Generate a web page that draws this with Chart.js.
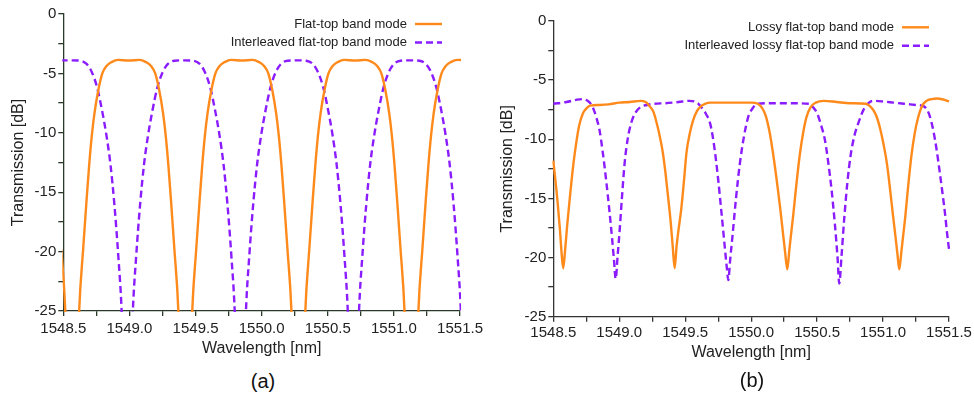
<!DOCTYPE html>
<html>
<head>
<meta charset="utf-8">
<script src="https://cdn.jsdelivr.net/npm/chart.js@4.4.0/dist/chart.umd.min.js"></script>
<style>
    body { margin: 0; background: #fff; width: 974px; height: 393px; position: relative; overflow: hidden;
           font-family: 'Liberation Sans', Arial, sans-serif; }
    #wrapA { position: absolute; left: 0; top: 0; width: 487px; height: 365px; }
    #wrapB { position: absolute; left: 490px; top: 0; width: 484px; height: 370px; }
    .rotulo { position: absolute; font-size: 20px; color: #111; transform: translate(-50%, -50%); }
</style>
</head>
<body>
<div id="wrapA"><canvas id="graficoA"></canvas></div>
<div id="wrapB"><canvas id="graficoB"></canvas></div>
<div class="rotulo" style="left:263px; top:381px;">(a)</div>
<div class="rotulo" style="left:752px; top:380px;">(b)</div>

<script>
// ---- (a) flat-top band mode ----
const legendasA = ['Flat-top band mode', 'Interleaved flat-top band mode'];

const wlLaranjaA = [
    1548.44, 1548.46, 1548.485, 1548.515, 1548.5675,
    1548.62, 1548.65, 1548.675, 1548.695, 1548.715, 1548.735, 1548.765, 1548.795, 1548.825, 1548.865, 1548.915, 1548.995,
    1549.075, 1549.125, 1549.165, 1549.195, 1549.225, 1549.255, 1549.275, 1549.295, 1549.315, 1549.34, 1549.37, 1549.4225,
    1549.475, 1549.505, 1549.53, 1549.55, 1549.57, 1549.59, 1549.62, 1549.65, 1549.68, 1549.72, 1549.77, 1549.85,
    1549.93, 1549.98, 1550.02, 1550.05, 1550.08, 1550.11, 1550.13, 1550.15, 1550.17, 1550.195, 1550.225, 1550.2775,
    1550.33, 1550.36, 1550.385, 1550.405, 1550.425, 1550.445, 1550.475, 1550.505, 1550.535, 1550.575, 1550.625, 1550.705,
    1550.785, 1550.835, 1550.875, 1550.905, 1550.935, 1550.965, 1550.985, 1551.005, 1551.025, 1551.05, 1551.08, 1551.1325,
    1551.185, 1551.215, 1551.24, 1551.26, 1551.28, 1551.30, 1551.33, 1551.36, 1551.39, 1551.43, 1551.48, 1551.56
];
const trLaranjaA = [
    -12.8, -15.8, -19.8, -25, -45,
    -25, -19.8, -15.8, -12.8, -10.3, -8.4, -6.4, -5.0, -4.4, -4.05, -3.86, -3.92,
    -3.86, -4.05, -4.4, -5.0, -6.4, -8.4, -10.3, -12.8, -15.8, -19.8, -25, -45,
    -25, -19.8, -15.8, -12.8, -10.3, -8.4, -6.4, -5.0, -4.4, -4.05, -3.86, -3.92,
    -3.86, -4.05, -4.4, -5.0, -6.4, -8.4, -10.3, -12.8, -15.8, -19.8, -25, -45,
    -25, -19.8, -15.8, -12.8, -10.3, -8.4, -6.4, -5.0, -4.4, -4.05, -3.86, -3.92,
    -3.86, -4.05, -4.4, -5.0, -6.4, -8.4, -10.3, -12.8, -15.8, -19.8, -25, -45,
    -25, -19.8, -15.8, -12.8, -10.3, -8.4, -6.4, -5.0, -4.4, -4.05, -3.86, -3.92
];

const wlRoxoA = [
    1548.48, 1548.556, 1548.626, 1548.676, 1548.716, 1548.756, 1548.796, 1548.826, 1548.856, 1548.886, 1548.916, 1548.941, 1548.9835,
    1549.026, 1549.051, 1549.081, 1549.111, 1549.141, 1549.171, 1549.211, 1549.251, 1549.291, 1549.341, 1549.411,
    1549.481, 1549.531, 1549.571, 1549.611, 1549.651, 1549.681, 1549.711, 1549.741, 1549.771, 1549.796, 1549.8385,
    1549.881, 1549.906, 1549.936, 1549.966, 1549.996, 1550.026, 1550.066, 1550.106, 1550.146, 1550.196, 1550.266,
    1550.336, 1550.386, 1550.426, 1550.466, 1550.506, 1550.536, 1550.566, 1550.596, 1550.626, 1550.651, 1550.6935,
    1550.736, 1550.761, 1550.791, 1550.821, 1550.851, 1550.881, 1550.921, 1550.961, 1551.001, 1551.051, 1551.121,
    1551.191, 1551.241, 1551.281, 1551.321, 1551.361, 1551.391, 1551.421, 1551.451, 1551.481, 1551.506, 1551.5485
];
const trRoxoA = [
    -3.9, -3.9, -3.93, -4.2, -4.9, -6.2, -8.3, -10.2, -12.6, -16.0, -20.4, -25, -40,
    -25, -20.4, -16.0, -12.6, -10.2, -8.3, -6.2, -4.9, -4.2, -3.93, -3.9,
    -3.93, -4.2, -4.9, -6.2, -8.3, -10.2, -12.6, -16.0, -20.4, -25, -40,
    -25, -20.4, -16.0, -12.6, -10.2, -8.3, -6.2, -4.9, -4.2, -3.93, -3.9,
    -3.93, -4.2, -4.9, -6.2, -8.3, -10.2, -12.6, -16.0, -20.4, -25, -40,
    -25, -20.4, -16.0, -12.6, -10.2, -8.3, -6.2, -4.9, -4.2, -3.93, -3.9,
    -3.93, -4.2, -4.9, -6.2, -8.3, -10.2, -12.6, -16.0, -20.4, -25, -40
];

// ---- (b) lossy flat-top band mode ----
const legendasB = ['Lossy flat-top band mode', 'Interleaved lossy flat-top band mode'];

const wlLaranjaB = [
    1548.5, 1548.53, 1548.55, 1548.562, 1548.575, 1548.59, 1548.605, 1548.625, 1548.645, 1548.665, 1548.695, 1548.725, 1548.755, 1548.78,
    1548.85, 1548.92, 1549.0, 1549.08, 1549.16, 1549.2,
    1549.23, 1549.26, 1549.29, 1549.31, 1549.33, 1549.35, 1549.37, 1549.39, 1549.405, 1549.42, 1549.435, 1549.45, 1549.47, 1549.49, 1549.51, 1549.535, 1549.56, 1549.59, 1549.62, 1549.65, 1549.69,
    1549.85, 1550.0, 1550.05,
    1550.08, 1550.11, 1550.14, 1550.17, 1550.2, 1550.22, 1550.24, 1550.258, 1550.274, 1550.29, 1550.305, 1550.32, 1550.345, 1550.37, 1550.395, 1550.42, 1550.45, 1550.49,
    1550.55, 1550.65, 1550.75, 1550.87,
    1550.9, 1550.93, 1550.955, 1550.98, 1551.005, 1551.03, 1551.055, 1551.075, 1551.095, 1551.11, 1551.123, 1551.138, 1551.152, 1551.168, 1551.19, 1551.215, 1551.24, 1551.265, 1551.295,
    1551.33, 1551.37, 1551.41, 1551.46, 1551.5
];
const trLaranjaB = [
    -11.8, -15.0, -17.6, -19.5, -20.9, -19.3, -17.3, -15.0, -12.8, -11.0, -8.9, -7.8, -7.35, -7.15,
    -7.1, -7.05, -6.9, -6.85, -6.75, -6.85,
    -7.2, -7.7, -8.9, -9.9, -11.1, -12.8, -14.85, -17.0, -19.0, -20.9, -19.0, -17.6, -15.9, -13.6, -11.1, -9.5, -8.4, -7.6, -7.2, -7.0, -6.9,
    -6.9, -6.9, -7.0,
    -7.3, -8.0, -9.4, -11.5, -14.0, -15.8, -17.8, -19.6, -21.0, -19.3, -17.8, -16.3, -13.6, -11.2, -9.4, -8.1, -7.3, -6.9,
    -6.75, -6.85, -6.95, -7.0,
    -7.2, -7.6, -8.2, -9.2, -10.5, -12.1, -14.4, -16.4, -18.3, -19.8, -21.0, -19.6, -18.2, -16.6, -14.0, -11.4, -9.5, -8.2, -7.2,
    -6.75, -6.6, -6.55, -6.65, -6.8
];

const wlRoxoB = [
    1548.5, 1548.6, 1548.68, 1548.725, 1548.76, 1548.79,
    1548.81, 1548.83, 1548.85, 1548.875, 1548.9, 1548.925, 1548.945, 1548.96, 1548.973, 1548.988, 1549.003, 1549.02, 1549.04, 1549.065, 1549.09, 1549.12, 1549.165,
    1549.21, 1549.26, 1549.35, 1549.45, 1549.53, 1549.57, 1549.6,
    1549.63, 1549.66, 1549.69, 1549.72, 1549.75, 1549.775, 1549.8, 1549.815, 1549.827, 1549.84, 1549.86, 1549.885, 1549.915, 1549.945, 1549.978, 1550.01, 1550.045,
    1550.15, 1550.3, 1550.44,
    1550.47, 1550.5, 1550.53, 1550.56, 1550.585, 1550.61, 1550.635, 1550.655, 1550.668, 1550.685, 1550.705, 1550.73, 1550.755, 1550.785, 1550.812, 1550.84, 1550.865,
    1550.9, 1550.93, 1551.0, 1551.08, 1551.16, 1551.25, 1551.29,
    1551.32, 1551.35, 1551.38, 1551.405, 1551.43, 1551.45, 1551.47, 1551.485, 1551.5
];
const trRoxoB = [
    -7.0, -6.85, -6.65, -6.6, -6.75, -7.1,
    -7.6, -8.3, -9.2, -11.1, -13.4, -16.0, -18.3, -20.2, -21.8, -19.8, -17.7, -15.0, -12.1, -9.9, -8.65, -7.8, -7.25,
    -7.1, -7.0, -6.95, -6.85, -6.75, -6.8, -7.0,
    -7.4, -7.9, -8.7, -10.6, -13.4, -16.2, -19.1, -20.8, -21.9, -20.3, -18.0, -15.0, -12.0, -9.8, -8.1, -7.4, -7.0,
    -6.95, -6.95, -7.0,
    -7.3, -7.8, -8.8, -10.1, -12.0, -14.3, -17.2, -20.0, -22.2, -19.9, -16.8, -13.6, -11.3, -9.6, -8.65, -7.8, -7.25,
    -6.85, -6.75, -6.8, -6.9, -7.0, -7.1, -7.15,
    -7.3, -7.9, -9.2, -10.8, -12.8, -14.5, -16.3, -17.9, -19.3
];

const ticksY = [0, -5, -10, -15, -20, -25];
const ticksX = [1548.5, 1549.0, 1549.5, 1550.0, 1550.5, 1551.0, 1551.5];

const corLaranja = '#FF8A1C';
const corRoxo = '#8A1CFF';

Chart.defaults.font.family = "'Liberation Sans', Arial, sans-serif";

function pontos(wl, tr) {
    return wl.map((x, i) => ({ x: x, y: tr[i] }));
}

function ehRotulo(v, lista) {
    return lista.some(t => Math.abs(t - v) < 1e-6);
}

// legenda com texto a esquerda e amostra da linha a direita
const legendaPlugin = {
    id: 'legendaCustom',
    afterDraw(chart, args, opts) {
        const ctx = chart.ctx;
        ctx.save();
        ctx.font = "13px 'Liberation Sans', Arial, sans-serif";
        ctx.textAlign = 'right';
        ctx.textBaseline = 'middle';
        chart.data.datasets.forEach((ds, i) => {
            const y = opts.y + i * opts.gap;
            ctx.fillStyle = '#222';
            ctx.fillText(ds.label, opts.x, y);
            ctx.beginPath();
            ctx.strokeStyle = ds.borderColor;
            ctx.lineWidth = ds.borderWidth;
            ctx.setLineDash(ds.borderDash || []);
            ctx.moveTo(opts.x + 8, y);
            ctx.lineTo(opts.x + 35, y);
            ctx.stroke();
        });
        ctx.restore();
    }
};

function montarGrafico(id, legendas, laranja, roxo, cfg) {
    const ctx = document.getElementById(id).getContext('2d');
    return new Chart(ctx, {
        type: 'line',
        data: {
            datasets: [{
                label: legendas[0],
                data: laranja,
                borderColor: corLaranja,
                borderWidth: 2.4,
                cubicInterpolationMode: 'monotone',
                pointRadius: 0,
                clip: 1
            }, {
                label: legendas[1],
                data: roxo,
                borderColor: corRoxo,
                borderWidth: 2.4,
                borderDash: [7, 4],
                cubicInterpolationMode: 'monotone',
                pointRadius: 0,
                clip: 1
            }]
        },
        options: {
            responsive: true,
            maintainAspectRatio: false,
            animation: false,
            layout: { padding: { left: 0, right: cfg.padDir, top: cfg.padTopo, bottom: 0 } },
            plugins: {
                legend: { display: false },
                tooltip: { enabled: false },
                legendaCustom: cfg.legenda
            },
            scales: {
                x: {
                    type: 'linear',
                    min: 1548.5,
                    max: 1551.5,
                    afterFit: s => { s.height = cfg.alturaX; },
                    border: { color: cfg.corEixo, width: 1.3 },
                    grid: { drawOnChartArea: false, drawTicks: true, tickLength: 5, color: cfg.corEixo, lineWidth: 1.3 },
                    ticks: {
                        stepSize: 0.25,
                        autoSkip: false,
                        maxRotation: 0,
                        padding: cfg.padTickX,
                        color: '#222',
                        font: { size: 15 },
                        callback: v => ehRotulo(v, ticksX) ? v.toFixed(1) : ''
                    },
                    title: {
                        display: true,
                        text: 'Wavelength [nm]',
                        color: '#222',
                        font: { size: 16 },
                        padding: { top: 0, bottom: cfg.padTituloX }
                    }
                },
                y: {
                    min: -25,
                    max: 0,
                    afterFit: s => { s.width = 63.3; },
                    border: { color: cfg.corEixo, width: 1.3 },
                    grid: { drawOnChartArea: false, drawTicks: true, tickLength: 5, color: cfg.corEixo, lineWidth: 1.3 },
                    ticks: {
                        stepSize: 2.5,
                        autoSkip: false,
                        padding: 2,
                        color: '#222',
                        font: { size: 15 },
                        callback: v => ehRotulo(v, ticksY) ? String(v) : ''
                    },
                    title: {
                        display: true,
                        text: 'Transmission [dB]',
                        color: '#222',
                        font: { size: 16 },
                        padding: { top: cfg.padTituloY, bottom: 0 }
                    }
                }
            }
        },
        plugins: [legendaPlugin]
    });
}

montarGrafico('graficoA', legendasA, pontos(wlLaranjaA, trLaranjaA), pontos(wlRoxoA, trRoxoA), {
    padDir: 24.7, padTopo: 14, alturaX: 54, padTickX: 4, padTituloX: 6.4, padTituloY: 9.4,
    corEixo: '#2a3a2a', legenda: { x: 407, y: 24, gap: 18.5 }
});

montarGrafico('graficoB', legendasB, pontos(wlLaranjaB, trLaranjaB), pontos(wlRoxoB, trRoxoB), {
    padDir: 25, padTopo: 21, alturaX: 53.3, padTickX: 2, padTituloX: 7.4, padTituloY: 8.4,
    corEixo: '#333', legenda: { x: 404, y: 27.3, gap: 18.5 }
});
</script>
</body>
</html>
